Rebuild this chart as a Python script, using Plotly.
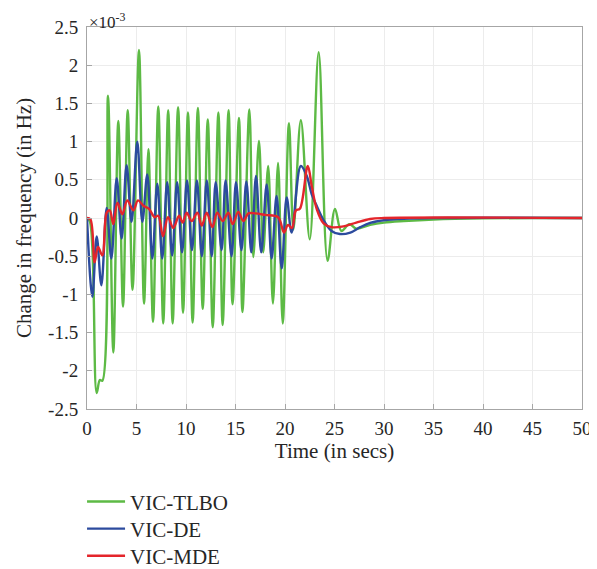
import plotly.graph_objects as go

# values in units of 1e-3 Hz
t_tlbo = [0, 0.3, 0.98, 1.3, 1.55, 2.12, 2.66, 3.16, 3.64, 4.11, 4.6, 5.25, 5.76, 6.2, 6.67,
          7.2, 7.7, 8.2, 8.65, 9.2, 9.7, 10.2, 10.67, 11.2, 11.69, 12.2, 12.7, 13.27, 13.7,
          14.3, 14.7, 15.35, 15.7, 16.4, 16.8, 17.37, 17.8, 18.3, 18.78, 19.3, 19.77, 20.4,
          20.85, 21.6, 22.5, 23.4, 24.3, 25.05, 25.7, 26.5, 27.2, 28.6, 30, 32, 35, 40, 45, 50]
f_tlbo = [0, -0.05, -2.29, -2.12, -2.13, 1.6, -1.76, 1.27, -1.16, 1.41, -0.94, 2.2, -1.12, 0.9,
          -1.36, 1.46, -1.38, 1.41, -1.38, 1.45, -1.24, 1.38, -1.37, 1.44, -1.19, 1.29, -1.43,
          1.38, -1.40, 1.41, -1.13, 1.31, -1.23, 1.42, -0.51, 1.01, -0.45, 0.68, -1.12, 0.72,
          -1.38, 1.24, -0.15, 1.28, -0.28, 2.17, -0.56, 0.12, -0.17, -0.08, -0.14, -0.09, -0.06,
          -0.04, -0.02, -0.005, 0, 0]

t_de = [0, 0.54, 0.98, 1.45, 1.99, 2.46, 3.0, 3.5, 4.0, 4.5, 5.08, 5.59, 6.09, 6.6, 7.1, 7.6,
        8.1, 8.6, 9.1, 9.6, 10.1, 10.6, 11.1, 11.6, 12.1, 12.6, 13.0, 13.6, 14.0, 14.6, 15.05,
        15.6, 16.1, 16.6, 17.07, 17.6, 18.15, 18.65, 19.15, 19.67, 20.17, 20.67, 21.6, 22.2,
        22.7, 23.2, 23.9, 24.7, 25.55, 26.6, 27.6, 28.6, 30, 32, 35, 50]
f_de = [0, -1.03, -0.24, -0.88, 0.13, -0.53, 0.52, -0.27, 0.69, -0.05, 1.0, -0.05, 0.57, -0.53,
        0.45, -0.53, 0.47, -0.49, 0.47, -0.45, 0.49, -0.42, 0.49, -0.5, 0.49, -0.5, 0.47, -0.42,
        0.49, -0.5, 0.47, -0.42, 0.48, -0.45, 0.55, -0.45, 0.44, -0.53, 0.29, -0.66, 0.27,
        -0.19, 0.68, 0.55, 0.31, 0.16, -0.03, -0.17, -0.21, -0.19, -0.12, -0.065, -0.03, -0.01,
        0, 0]

t_mde = [0, 0.35, 0.77, 1.11, 1.55, 1.99, 2.3, 2.66, 3.07, 3.57, 4.07, 4.68, 5.15, 5.7, 6.26,
         6.84, 7.2, 7.68, 8.18, 8.72, 9.3, 9.67, 10.07, 10.58, 11.14, 11.59, 12.09, 12.66,
         13.16, 13.7, 14.27, 14.72, 15.28, 15.79, 16.3, 17, 18, 19.3, 19.9, 20.3, 20.7, 21.1,
         21.5, 22.3, 22.7, 23.2, 23.9, 24.7, 25.9, 27.2, 28.6, 30, 50]
f_mde = [0, -0.02, -0.58, -0.38, -0.49, 0.07, 0.1, -0.08, 0.2, 0.05, 0.23, 0.1, 0.23, 0.16,
         0.12, 0.01, 0.03, -0.24, 0.01, -0.13, 0.03, -0.06, 0.07, -0.04, 0.07, -0.1, 0.07,
         -0.12, 0.07, -0.04, 0.07, -0.08, 0.08, -0.04, 0.06, 0.06, 0.04, 0.01, -0.19, -0.09,
         -0.13, 0.1, 0.12, 0.68, 0.42, 0.12, -0.07, -0.12, -0.11, -0.06, -0.013, 0, 0]

x_ticks = list(range(0, 51, 5))
y_ticks = [-2.5, -2, -1.5, -1, -0.5, 0, 0.5, 1, 1.5, 2, 2.5]
y_labels = ["-2.5", "-2", "-1.5", "-1", "-0.5", "0", "0.5", "1", "1.5", "2", "2.5"]

FONT = "Liberation Serif"
TXT = "#262626"

fig = go.Figure()
series = [("VIC-TLBO", t_tlbo, f_tlbo, "#5dba45", "legend"),
          ("VIC-DE", t_de, f_de, "#2c4b9e", "legend2"),
          ("VIC-MDE", t_mde, f_mde, "#e4252b", "legend3")]
for name, t, f, col, lg in series:
    fig.add_trace(go.Scatter(x=t, y=f, name=name, mode="lines", legend=lg,
                             line=dict(color=col, width=2.4, shape="spline", smoothing=1)))

axis_common = dict(showgrid=True, gridcolor="#ececec", gridwidth=1, zeroline=False,
                   showline=True, linecolor="#a6a6a6", linewidth=1, mirror=True,
                   ticks="inside", ticklen=5, tickcolor="#a6a6a6", automargin=False,
                   tickfont=dict(family=FONT, size=19, color=TXT))

fig.update_xaxes(range=[0, 50], tickvals=x_ticks, ticklabelstandoff=2,
                 title=dict(text="Time (in secs)", font=dict(family=FONT, size=21, color=TXT),
                            standoff=4),
                 **axis_common)
fig.update_yaxes(range=[-2.5, 2.5], tickvals=y_ticks, ticktext=y_labels, ticklabelstandoff=4,
                 title=dict(text="Change in frequency (in Hz)",
                            font=dict(family=FONT, size=21, color=TXT), standoff=10),
                 **axis_common)

fig.add_annotation(x=0, y=1, xref="paper", yref="paper", xanchor="left", yanchor="bottom",
                   text="×10<sup>-3</sup>", showarrow=False, yshift=-7,
                   font=dict(family=FONT, size=17, color=TXT))

leg_style = dict(x=-0.01, xanchor="left", yanchor="middle", orientation="v", itemwidth=38,
                 font=dict(family=FONT, size=21, color=TXT), bgcolor="rgba(0,0,0,0)")

# page body has an 8px margin, so the figure is 8px smaller and margins shifted
fig.update_layout(
    width=589, height=561,
    margin=dict(l=79, r=15, t=19, b=160, autoexpand=False),
    plot_bgcolor="white", paper_bgcolor="white",
    showlegend=True,
    legend=dict(y=-0.243, **leg_style),
    legend2=dict(y=-0.314, **leg_style),
    legend3=dict(y=-0.385, **leg_style),
)

fig.write_html("out.html")
